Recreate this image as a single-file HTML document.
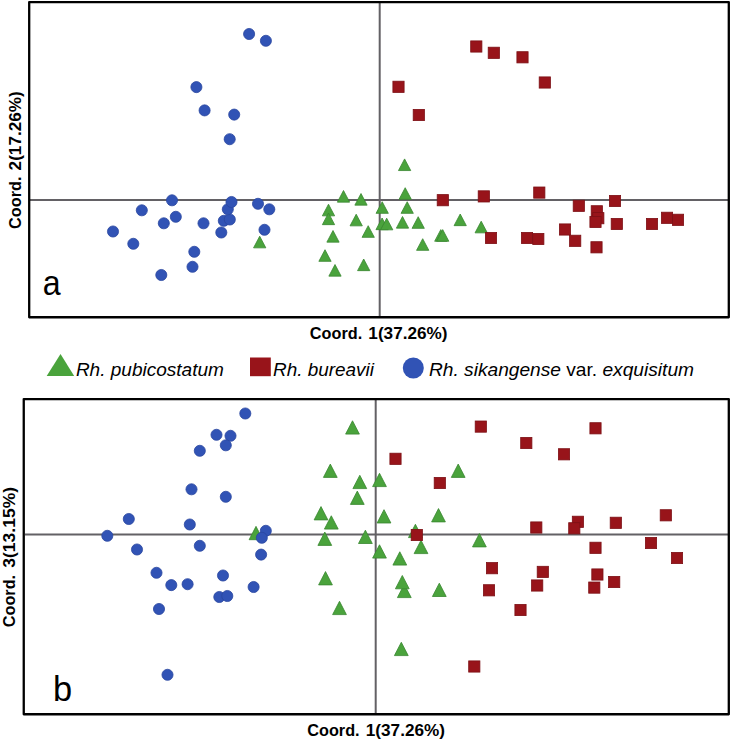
<!DOCTYPE html>
<html><head><meta charset="utf-8"><title>PCoA</title>
<style>
html,body{margin:0;padding:0;background:#fff;}
body{width:731px;height:741px;overflow:hidden;font-family:"Liberation Sans",sans-serif;}
svg{display:block;}
text{font-family:"Liberation Sans",sans-serif;fill:#000;}
.ax{font-weight:bold;font-size:16.6px;}
.lg{font-style:italic;font-size:18.5px;}
.pl{font-size:34px;}
</style></head><body>
<svg width="731" height="741" viewBox="0 0 731 741">
<rect x="0" y="0" width="731" height="741" fill="#fff"/>

<g stroke="#636165" stroke-width="2"><line x1="30" y1="199.9" x2="728" y2="199.9"/><line x1="379.7" y1="3" x2="379.7" y2="316.5"/></g>
<rect x="29.2" y="2.05" width="699.6" height="315.2" fill="none" stroke="#000" stroke-width="2.3" stroke-linejoin="round"/>
<g fill="#4aa33c" stroke="#388730" stroke-width="0.8" stroke-linejoin="miter"><polygon points="404.60,158.91 398.46,170.55 410.74,170.55"/><polygon points="405.20,187.71 399.06,199.35 411.34,199.35"/><polygon points="343.50,190.51 337.36,202.15 349.64,202.15"/><polygon points="361.00,193.51 354.86,205.15 367.14,205.15"/><polygon points="328.50,204.21 322.36,215.85 334.64,215.85"/><polygon points="328.50,213.01 322.36,224.65 334.64,224.65"/><polygon points="382.20,201.71 376.06,213.35 388.34,213.35"/><polygon points="407.20,201.71 401.06,213.35 413.34,213.35"/><polygon points="356.20,214.21 350.06,225.85 362.34,225.85"/><polygon points="382.10,218.01 375.96,229.65 388.24,229.65"/><polygon points="386.70,218.21 380.56,229.85 392.84,229.85"/><polygon points="402.50,216.51 396.36,228.15 408.64,228.15"/><polygon points="418.20,216.71 412.06,228.35 424.34,228.35"/><polygon points="368.20,225.71 362.06,237.35 374.34,237.35"/><polygon points="333.00,230.51 326.86,242.15 339.14,242.15"/><polygon points="325.00,249.71 318.86,261.35 331.14,261.35"/><polygon points="335.00,264.51 328.86,276.15 341.14,276.15"/><polygon points="363.70,259.01 357.56,270.65 369.84,270.65"/><polygon points="422.70,238.71 416.56,250.35 428.84,250.35"/><polygon points="440.80,229.61 434.66,241.25 446.94,241.25"/><polygon points="442.70,229.61 436.56,241.25 448.84,241.25"/><polygon points="460.20,214.01 454.06,225.65 466.34,225.65"/><polygon points="481.20,221.21 475.06,232.85 487.34,232.85"/><polygon points="259.70,236.21 253.56,247.85 265.84,247.85"/></g>
<g fill="#3153b5" stroke="#2a469f" stroke-width="0.8"><circle cx="249.1" cy="34.0" r="5.55"/><circle cx="265.9" cy="40.8" r="5.55"/><circle cx="196.4" cy="87.1" r="5.55"/><circle cx="204.6" cy="110.4" r="5.55"/><circle cx="234.2" cy="114.6" r="5.55"/><circle cx="229.7" cy="139.2" r="5.55"/><circle cx="113.0" cy="231.5" r="5.55"/><circle cx="133.3" cy="243.8" r="5.55"/><circle cx="141.8" cy="210.3" r="5.55"/><circle cx="172.0" cy="200.3" r="5.55"/><circle cx="163.8" cy="223.3" r="5.55"/><circle cx="175.8" cy="216.8" r="5.55"/><circle cx="161.3" cy="275.0" r="5.55"/><circle cx="194.3" cy="251.8" r="5.55"/><circle cx="192.5" cy="266.8" r="5.55"/><circle cx="203.5" cy="223.3" r="5.55"/><circle cx="221.3" cy="232.5" r="5.55"/><circle cx="223.8" cy="220.8" r="5.55"/><circle cx="229.8" cy="219.5" r="5.55"/><circle cx="227.8" cy="209.3" r="5.55"/><circle cx="231.5" cy="202.0" r="5.55"/><circle cx="258.0" cy="203.8" r="5.55"/><circle cx="269.3" cy="209.3" r="5.55"/><circle cx="264.5" cy="229.8" r="5.55"/></g>
<g fill="#98141a" stroke="#7c1015" stroke-width="0.8"><rect x="470.7" y="40.9" width="11.2" height="11.2"/><rect x="488.2" y="47.2" width="11.2" height="11.2"/><rect x="516.9" y="51.7" width="11.2" height="11.2"/><rect x="539.2" y="76.9" width="11.2" height="11.2"/><rect x="392.9" y="81.2" width="11.2" height="11.2"/><rect x="413.2" y="109.4" width="11.2" height="11.2"/><rect x="437.2" y="194.6" width="11.2" height="11.2"/><rect x="478.2" y="190.8" width="11.2" height="11.2"/><rect x="533.7" y="187.0" width="11.2" height="11.2"/><rect x="485.4" y="232.4" width="11.2" height="11.2"/><rect x="521.4" y="232.4" width="11.2" height="11.2"/><rect x="532.7" y="233.4" width="11.2" height="11.2"/><rect x="559.4" y="223.9" width="11.2" height="11.2"/><rect x="569.6" y="235.2" width="11.2" height="11.2"/><rect x="573.2" y="200.2" width="11.2" height="11.2"/><rect x="591.2" y="205.7" width="11.2" height="11.2"/><rect x="592.7" y="212.6" width="11.2" height="11.2"/><rect x="589.9" y="216.4" width="11.2" height="11.2"/><rect x="590.9" y="241.7" width="11.2" height="11.2"/><rect x="609.4" y="195.4" width="11.2" height="11.2"/><rect x="611.2" y="218.4" width="11.2" height="11.2"/><rect x="646.4" y="218.4" width="11.2" height="11.2"/><rect x="661.4" y="212.2" width="11.2" height="11.2"/><rect x="672.4" y="214.2" width="11.2" height="11.2"/></g>
<text class="pl" transform="translate(42.8,295.1) scale(0.92,1)" style="font-size:35px">a</text>
<g transform="translate(310.75,339.3)"><text class="ax" x="-0.9" y="0" textLength="52.3" lengthAdjust="spacingAndGlyphs">Coord.</text><text class="ax" x="57.6" y="0" textLength="79.2" lengthAdjust="spacingAndGlyphs">1(37.26%)</text></g>
<g transform="translate(21.2,228) rotate(-90)"><text class="ax" x="-0.9" y="0" textLength="52.3" lengthAdjust="spacingAndGlyphs">Coord.</text><text class="ax" x="57.6" y="0" textLength="79.2" lengthAdjust="spacingAndGlyphs">2(17.26%)</text></g>
<polygon fill="#4aa33c" points="60.5,354 46.7,376 74.2,376"/>
<text class="lg" x="75.9" y="376.3" textLength="148" lengthAdjust="spacingAndGlyphs">Rh. pubicostatum</text>
<rect fill="#98141a" x="250" y="357.5" width="20.8" height="18.7"/>
<text class="lg" x="273" y="376.3" textLength="101" lengthAdjust="spacingAndGlyphs">Rh. bureavii</text>
<circle fill="#3153b5" cx="413.3" cy="368" r="10.5"/>
<text class="lg" x="429" y="376.3" textLength="265" lengthAdjust="spacingAndGlyphs">Rh. sikangense <tspan font-style="normal">var.</tspan> exquisitum</text>
<g stroke="#636165" stroke-width="2"><line x1="25" y1="534.4" x2="728" y2="534.4"/><line x1="375.7" y1="400" x2="375.7" y2="713.5"/></g>
<rect x="23.75" y="399.05" width="705.05" height="315.2" fill="none" stroke="#000" stroke-width="2.3" stroke-linejoin="round"/>
<g fill="#4aa33c" stroke="#388730" stroke-width="0.8" stroke-linejoin="miter"><polygon points="352.50,420.77 345.61,434.10 359.39,434.10"/><polygon points="330.30,464.07 323.41,477.40 337.19,477.40"/><polygon points="359.80,475.27 352.91,488.60 366.69,488.60"/><polygon points="379.50,473.27 372.61,486.60 386.39,486.60"/><polygon points="357.30,491.07 350.41,504.40 364.19,504.40"/><polygon points="321.00,506.57 314.11,519.90 327.89,519.90"/><polygon points="331.30,515.77 324.41,529.10 338.19,529.10"/><polygon points="384.00,509.67 377.11,523.00 390.89,523.00"/><polygon points="458.20,464.07 451.31,477.40 465.09,477.40"/><polygon points="438.50,508.57 431.61,521.90 445.39,521.90"/><polygon points="324.80,532.07 317.91,545.40 331.69,545.40"/><polygon points="365.40,530.17 358.51,543.50 372.29,543.50"/><polygon points="379.50,544.77 372.61,558.10 386.39,558.10"/><polygon points="399.80,551.77 392.91,565.10 406.69,565.10"/><polygon points="421.00,540.27 414.11,553.60 427.89,553.60"/><polygon points="415.40,524.27 408.51,537.60 422.29,537.60"/><polygon points="479.40,533.57 472.51,546.90 486.29,546.90"/><polygon points="325.50,571.57 318.61,584.90 332.39,584.90"/><polygon points="404.30,584.27 397.41,597.60 411.19,597.60"/><polygon points="402.30,575.47 395.41,588.80 409.19,588.80"/><polygon points="439.30,583.17 432.41,596.50 446.19,596.50"/><polygon points="339.50,601.27 332.61,614.60 346.39,614.60"/><polygon points="401.30,642.27 394.41,655.60 408.19,655.60"/><polygon points="256.00,526.37 249.11,539.70 262.89,539.70"/></g>
<g fill="#3153b5" stroke="#2a469f" stroke-width="0.8"><circle cx="245.3" cy="413.5" r="5.55"/><circle cx="216.5" cy="434.8" r="5.55"/><circle cx="230.5" cy="435.8" r="5.55"/><circle cx="225.8" cy="445.3" r="5.55"/><circle cx="199.8" cy="450.8" r="5.55"/><circle cx="191.5" cy="489.3" r="5.55"/><circle cx="225.8" cy="496.8" r="5.55"/><circle cx="128.8" cy="519.0" r="5.55"/><circle cx="189.8" cy="524.5" r="5.55"/><circle cx="107.3" cy="535.8" r="5.55"/><circle cx="137.0" cy="549.5" r="5.55"/><circle cx="199.8" cy="545.8" r="5.55"/><circle cx="265.8" cy="530.8" r="5.55"/><circle cx="261.8" cy="537.8" r="5.55"/><circle cx="261.1" cy="554.6" r="5.55"/><circle cx="156.5" cy="572.8" r="5.55"/><circle cx="223.0" cy="575.5" r="5.55"/><circle cx="171.3" cy="585.1" r="5.55"/><circle cx="187.6" cy="584.2" r="5.55"/><circle cx="253.6" cy="587.0" r="5.55"/><circle cx="219.3" cy="597.0" r="5.55"/><circle cx="227.3" cy="596.0" r="5.55"/><circle cx="159.0" cy="609.0" r="5.55"/><circle cx="167.5" cy="674.8" r="5.55"/></g>
<g fill="#98141a" stroke="#7c1015" stroke-width="0.8"><rect x="389.9" y="453.2" width="11.2" height="11.2"/><rect x="434.2" y="477.4" width="11.2" height="11.2"/><rect x="411.2" y="529.4" width="11.2" height="11.2"/><rect x="475.2" y="421.0" width="11.2" height="11.2"/><rect x="520.7" y="437.4" width="11.2" height="11.2"/><rect x="558.4" y="448.7" width="11.2" height="11.2"/><rect x="589.9" y="422.7" width="11.2" height="11.2"/><rect x="530.7" y="521.9" width="11.2" height="11.2"/><rect x="572.3" y="516.2" width="11.2" height="11.2"/><rect x="568.7" y="522.7" width="11.2" height="11.2"/><rect x="610.2" y="517.2" width="11.2" height="11.2"/><rect x="589.9" y="542.2" width="11.2" height="11.2"/><rect x="486.4" y="562.6" width="11.2" height="11.2"/><rect x="537.2" y="566.3" width="11.2" height="11.2"/><rect x="591.8" y="568.9" width="11.2" height="11.2"/><rect x="608.6" y="576.4" width="11.2" height="11.2"/><rect x="531.6" y="579.9" width="11.2" height="11.2"/><rect x="588.7" y="582.0" width="11.2" height="11.2"/><rect x="483.4" y="584.7" width="11.2" height="11.2"/><rect x="660.2" y="509.7" width="11.2" height="11.2"/><rect x="645.4" y="537.4" width="11.2" height="11.2"/><rect x="671.4" y="552.4" width="11.2" height="11.2"/><rect x="514.9" y="604.4" width="11.2" height="11.2"/><rect x="468.7" y="660.9" width="11.2" height="11.2"/></g>
<text class="pl" transform="translate(53.1,701.2) scale(0.97,1)" style="font-size:35.5px">b</text>
<g transform="translate(308.2,735.5)"><text class="ax" x="-0.9" y="0" textLength="52.3" lengthAdjust="spacingAndGlyphs">Coord.</text><text class="ax" x="57.6" y="0" textLength="79.2" lengthAdjust="spacingAndGlyphs">1(37.26%)</text></g>
<g transform="translate(14.7,626.3) rotate(-90)"><text class="ax" x="-0.9" y="0" textLength="52.3" lengthAdjust="spacingAndGlyphs">Coord.</text><text class="ax" x="58.6" y="0" textLength="80.8" lengthAdjust="spacingAndGlyphs">3(13.15%)</text></g>
</svg></body></html>
